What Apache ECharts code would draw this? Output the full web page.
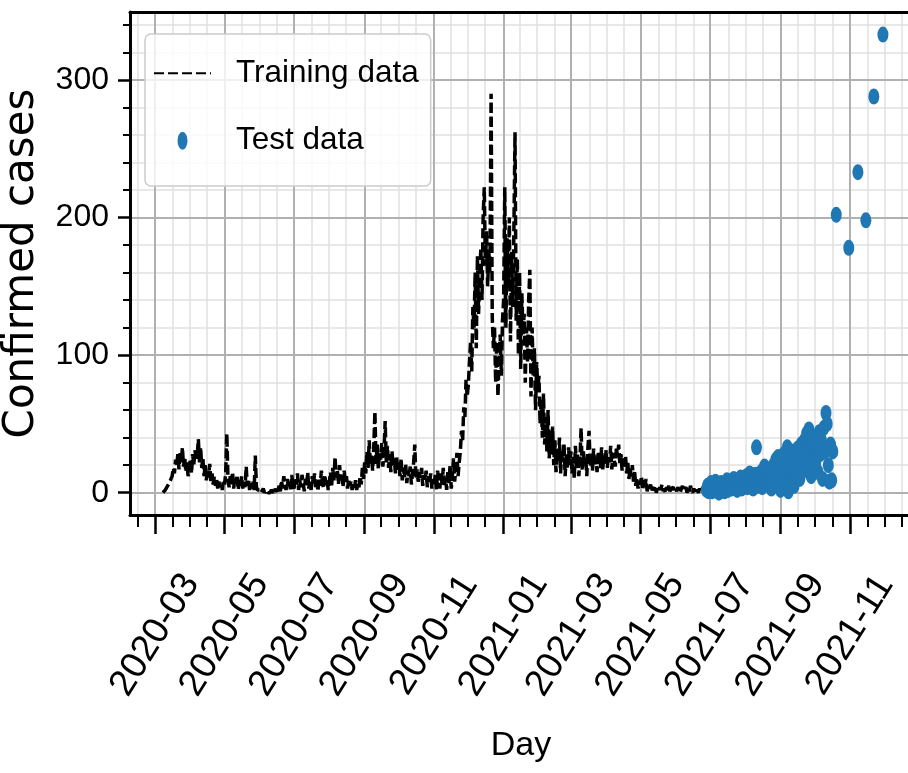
<!DOCTYPE html>
<html><head><meta charset="utf-8">
<script src="https://cdn.jsdelivr.net/npm/echarts@6/dist/echarts.min.js"></script>
<style>html,body{margin:0;padding:0;background:#fff}#c{width:908px;height:773px}</style>
</head><body><div id="c"></div>
<script>
// ===================== DATA =====================
const seriesNames = ['Training data', 'Test data'];
const xTickLabels = ['2020-03','2020-05','2020-07','2020-09','2020-11','2021-01','2021-03','2021-05','2021-07','2021-09','2021-11'];
const yTickValues = [0, 100, 200, 300];

// Training data: daily values starting 2020-03-08 (one array per month)
const trainStart = '2020-03-08';
const train2020_03 = [0,1,2,3,5,4,8,10,12,18,14,24,20,28,17,30,22,33,19,26,15,22,12,18];
const train2020_04 = [24,14,28,20,31,25,27,39,22,33,18,25,12,20,9,17,11,21,8,14,6,12,5,10,3,8,4,6,2,9];
const train2020_05 = [6,14,43,10,4,12,6,15,3,11,7,13,2,9,5,12,3,8,4,19,5,10,2,7,3,8,2,27,4,2,1];
const train2020_06 = [2,0,1,3,0,1,2,0,1,0,2,1,0,3,1,0,2,5,1,9,3,12,6,2,10,4,8,1,13,5];
const train2020_07 = [3,11,6,14,2,9,4,13,7,1,10,5,15,3,8,2,12,6,14,4,9,1,11,5,16,7,3,13,6,10,2];
const train2020_08 = [8,15,5,18,9,26,11,17,6,20,9,14,4,16,8,12,3,10,5,8,2,6,3,9,2,7,4,12,6,18,10];
const train2020_09 = [22,14,30,18,38,20,27,16,33,59,21,35,17,29,24,36,19,31,52,22,34,18,28,15,30,20,25,14,27,16];
const train2020_10 = [22,12,25,9,18,11,21,7,16,12,19,6,14,22,35,10,17,8,15,11,18,5,13,9,16,4,12,7,14,3,10];
const train2020_11 = [5,13,2,16,8,3,14,6,18,4,11,2,15,7,20,3,12,25,8,17,29,12,22,30,45,38,62,55,82,70];
const train2020_12 = [78,95,110,88,135,120,160,105,172,130,155,178,140,200,222,165,190,150,175,160,290,128,105,120,80,110,70,98,115,85,125];
const train2021_01 = [140,222,120,185,150,200,110,175,135,190,262,125,170,100,160,90,145,115,130,80,120,95,140,162,70,120,85,105,60,95,75];
const train2021_02 = [85,50,68,40,72,35,55,30,60,25,45,28,48,20,38,15,32,24,40,14,30,22,36,12,28,18,33,20];
const train2021_03 = [30,14,26,10,34,18,28,12,24,47,16,30,20,26,12,33,45,19,28,16,32,20,26,15,30,22,18,33,17,27,21];
const train2021_04 = [31,18,27,22,34,17,29,24,19,33,26,35,21,28,16,25,19,27,14,22,10,18,12,20,8,15,5,11,3,8];
const train2021_05 = [6,12,2,9,4,10,1,5,3,6,1,4,2,5,0,3,1,4,2,6,1,3,0,4,2,5,1,3,2,4,1];
const train2021_06 = [3,1,4,2,0,3,5,1,2,4,0,3,1,5,2,0,3,1,4,2,0,3,1,2,4,1,3];

// Test data: daily values starting 2021-06-28, then sparse points
const testStart = '2021-06-28';
const test2021_06 = [2,5,1];
const test2021_07 = [4,7,1,5,3,8,2,6,0,4,7,3,5,1,6,9,2,5,8,3,6,10,4,7,2,9,5,11,3,8,6];
const test2021_08 = [7,12,4,9,14,6,10,3,8,13,33,5,11,7,15,4,12,19,8,14,6,17,10,3,15,20,9,24,12,26,18];
const test2021_09 = [2,22,15,28,8,20,33,1,25,12,30,18,5,27,14,32,20,10,35,24,16,38,28,43,20,46,30,12,36,25];
const test2021_10 = [40,22,33,15,44,28,38,10,47,30,58,50,20,8,35,9,30];
const testLateDates = ['2021-10-20','2021-10-31','2021-11-08','2021-11-15','2021-11-22','2021-11-30'];
const testLateValues = [202,178,233,198,288,333];

// ===================== HELPERS =====================
const DAY0 = Date.UTC(2020, 2, 1);
function dayIndex(s){ const p = s.split('-').map(Number); return Math.round((Date.UTC(p[0], p[1]-1, p[2]||1) - DAY0)/86400000); }
function daily(start, arrays){ let d = dayIndex(start); const out = []; arrays.forEach(a => a.forEach(v => { out.push([d, v]); d++; })); return out; }

const trainData = daily(trainStart, [train2020_03,train2020_04,train2020_05,train2020_06,train2020_07,train2020_08,train2020_09,train2020_10,train2020_11,train2020_12,train2021_01,train2021_02,train2021_03,train2021_04,train2021_05,train2021_06]);
const testData = daily(testStart, [test2021_06,test2021_07,test2021_08,test2021_09,test2021_10])
  .concat(testLateDates.map((d,i) => [dayIndex(d), testLateValues[i]]));

const SANS = 'Liberation Sans';
const DEJA = 'DejaVu Sans';

// axis ranges / ticks
const xMin = -22, xMax = 664.5, yMin = -16.2, yMax = 349.4;
const xMajor = xTickLabels.map(dayIndex);
const xStep = (xMajor[1] - xMajor[0]) / 4;
const xMinor = [];
for (let k = Math.ceil((xMin - xMajor[0]) / xStep); xMajor[0] + k*xStep <= xMax; k++) {
  const v = xMajor[0] + k*xStep;
  if (!xMajor.some(m => Math.abs(m - v) < 2)) xMinor.push(v);
}
const yMinor = [];
for (let v = 20; v <= yMax; v += 20) if (!yTickValues.includes(v)) yMinor.push(v);
function labelFor(v){ const i = xMajor.findIndex(m => Math.abs(m - v) < 0.5); return i >= 0 ? xTickLabels[i] : ''; }

const legendFS = 31.5, dayFS = 34, xLabFS = 37, yLabFS = 32;
const rowH = Math.max(18, legendFS);
const chart = echarts.init(document.getElementById('c'));
chart.setOption({
  animation: false,
  backgroundColor: '#ffffff',
  textStyle: { fontFamily: SANS, color: '#000' },
  grid: { left: 130, top: 12, width: 782, height: 503, show: false, containLabel: false, outerBoundsMode: 'none' },
  legend: {
    show: true, orient: 'vertical', left: 145, top: 34, z: 6,
    itemWidth: 57, itemHeight: 18, itemGap: 67 - rowH,
    padding: [73 - 34 - rowH/2, 12, 185 - (140 + rowH/2), 8],
    backgroundColor: 'rgba(255,255,255,0.8)', borderColor: '#cccccc', borderWidth: 1.5, borderRadius: 6,
    textStyle: { fontFamily: SANS, fontSize: legendFS, color: '#000', padding: [0,0,0,20] },
    selectedMode: false,
    data: [ { name: seriesNames[0], itemStyle: { opacity: 0 } },
            { name: seriesNames[1], icon: 'path://M5 0A5 9 0 1 1 5 18A5 9 0 1 1 5 0Z' } ]
  },
  xAxis: [
    { type: 'value', min: xMin, max: xMax, position: 'bottom', z: 1,
      name: 'Day', nameLocation: 'middle', nameGap: 746 - dayFS/2 - 515,
      nameTextStyle: { fontFamily: SANS, fontSize: dayFS, color: '#000' },
      axisLine: { show: true, onZero: false, lineStyle: { color: '#000', width: 3 } },
      axisTick: { show: true, length: 19, customValues: xMajor, lineStyle: { color: '#000', width: 2.5 } },
      axisLabel: { show: true, customValues: xMajor, rotate: 58, margin: 120, align: 'center', verticalAlign: 'middle',
                   fontFamily: SANS, fontSize: xLabFS, color: '#000', formatter: labelFor, hideOverlap: false },
      splitLine: { show: true, lineStyle: { color: '#b0b0b0', width: 2 } } },
    { type: 'value', min: xMin, max: xMax, position: 'bottom', offset: 0, z: 0,
      axisLine: { show: false, onZero: false },
      axisTick: { show: true, length: 12, customValues: xMinor, lineStyle: { color: '#000', width: 2 } },
      axisLabel: { show: false },
      splitLine: { show: true, lineStyle: { color: '#e0e0e0', width: 1.5 } } },
    { type: 'value', min: xMin, max: xMax, position: 'top', offset: 0, z: 5,
      axisLine: { show: true, onZero: false, lineStyle: { color: '#000', width: 3 } },
      axisTick: { show: false }, axisLabel: { show: false }, splitLine: { show: false } }
  ],
  yAxis: [
    { type: 'value', min: yMin, max: yMax, position: 'left', z: 1,
      name: 'Confirmed cases', nameLocation: 'middle', nameGap: 87, nameRotate: 90,
      nameTextStyle: { fontFamily: DEJA, fontSize: 42, color: '#000' },
      axisLine: { show: true, onZero: false, lineStyle: { color: '#000', width: 3 } },
      axisTick: { show: true, length: 12, customValues: yTickValues, lineStyle: { color: '#000', width: 2.5 } },
      axisLabel: { show: true, customValues: yTickValues, margin: 21, fontFamily: SANS, fontSize: yLabFS, color: '#000' },
      splitLine: { show: true, lineStyle: { color: '#b0b0b0', width: 2 } } },
    { type: 'value', min: yMin, max: yMax, position: 'left', offset: 0, z: 0,
      axisLine: { show: false, onZero: false },
      axisTick: { show: true, length: 7, customValues: yMinor, lineStyle: { color: '#000', width: 2 } },
      axisLabel: { show: false },
      splitLine: { show: true, lineStyle: { color: '#e0e0e0', width: 1.5 } } }
  ],
  series: [
    { type: 'line', name: seriesNames[0], xAxisIndex: 0, yAxisIndex: 0, data: trainData,
      symbol: 'none', showSymbol: false, z: 2,
      lineStyle: { color: '#000', width: 3.5, type: [10, 4] }, itemStyle: { color: '#000' } },
    { type: 'scatter', name: seriesNames[1], xAxisIndex: 0, yAxisIndex: 0, data: testData,
      symbol: 'circle', symbolSize: [11, 16], z: 3,
      itemStyle: { color: '#1f77b4', opacity: 1 } }
  ]
});
</script>
</body></html>
